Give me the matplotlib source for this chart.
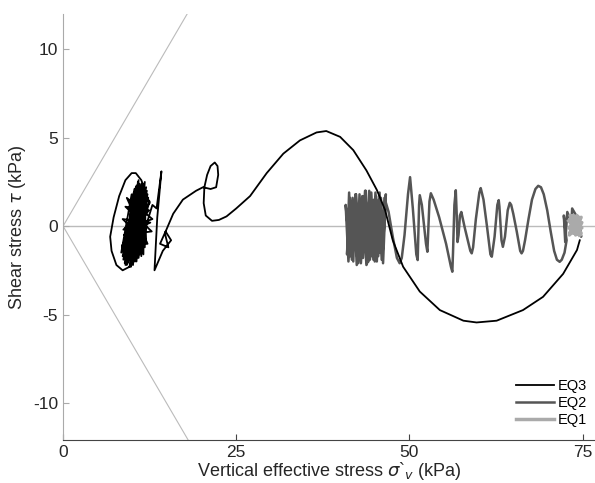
import matplotlib.pyplot as plt

plt.rcParams['font.family'] = ['Liberation Sans', 'DejaVu Sans']
plt.rcParams['axes.unicode_minus'] = False

# EQ3 (black) - dense scribble near 10 kPa
eq3_blob_x = [10.5, 8.6, 11.0, 9.4, 11.4, 10.2, 11.8, 11.0, 10.2, 8.9, 12.1, 9.8, 10.8, 10.6,
              11.5, 11.5, 9.9, 8.4, 12.3, 9.2, 10.6, 10.0, 11.2, 10.9, 11.9, 11.8, 10.3, 8.7,
              12.5, 9.6, 10.9, 10.4, 11.6, 11.3, 10.0, 9.0, 12.0, 9.9, 11.3, 10.8, 10.7, 8.5,
              12.2, 9.3, 11.1, 10.1, 9.7, 11.6, 11.7, 12.0,
              8.6, 12.6, 8.8, 12.8, 9.0, 12.4, 8.5, 12.2, 9.2, 12.9, 8.7, 12.5]
eq3_blob_y = [2.2, -1.7, 2.4, -2.0, 2.3, -1.9, 2.5, -1.6, 1.9, -2.1, 2.0, -2.3, 2.5, -2.0,
              2.4, -1.4, 1.8, -1.5, 1.6, -2.2, 2.3, -2.1, 2.2, -1.8, 2.0, -1.2, 2.1, -1.9,
              1.4, -2.3, 2.6, -2.0, 1.9, -1.7, 1.5, -2.2, 2.2, -1.9, 2.4, -1.5, 2.0, -1.3,
              1.8, -2.1, 2.3, -2.2, 1.2, -1.6, 2.1, -0.9,
              0.4, 0.2, -0.5, -0.3, 1.1, 0.9, -1.1, -1.0, 1.6, 0.4, -0.2, 1.3]

# EQ3 - outer loop, spikes, curl and the big arc
eq3_path_x = [11.3, 10.5, 9.9, 9.0, 8.1, 7.3, 6.8, 7.0, 7.7, 8.6, 9.6, 10.6, 11.5, 12.2,
              12.9, 13.5, 14.2, 13.6, 13.2, 14.4, 15.6, 14.8, 14.0, 15.2, 14.7, 15.9, 17.3,
              19.2, 20.2, 21.3, 22.1, 22.4, 22.3, 21.9, 21.3, 20.8, 20.4, 20.3, 20.6, 21.5,
              22.5, 23.6, 25.0, 27.0, 29.4, 31.8, 34.2, 36.6, 38.0, 40.0, 41.9, 43.8, 45.3,
              46.5, 47.6, 49.1, 51.5, 54.4, 57.8, 59.7, 62.6, 66.4, 69.3, 72.2, 74.2, 74.6]
eq3_path_y = [2.6, 3.0, 3.0, 2.6, 1.7, 0.5, -0.6, -1.4, -2.2, -2.5, -2.3, -1.8, -0.9, 0.3,
              1.2, 1.0, 3.1, 0.5, -2.5, -1.4, -0.8, -0.3, -1.0, -1.2, -0.4, 0.7, 1.5,
              2.0, 2.2, 2.1, 2.2, 2.9, 3.4, 3.6, 3.4, 2.9, 2.2, 1.3, 0.6, 0.3,
              0.35, 0.55, 1.0, 1.7, 3.0, 4.1, 4.85, 5.3, 5.38, 5.05, 4.3, 3.15, 2.05,
              0.9, -0.8, -2.3, -3.7, -4.75, -5.35, -5.45, -5.35, -4.75, -4.0, -2.7, -1.35, -0.8]

# EQ2 (dark grey) - start near 74 kPa and waves going left
eq2_wave_x = [74.5, 74.8, 74.3, 73.5, 73.4, 72.8, 72.5, 72.3, 72.6, 72.7, 72.4, 72.0, 71.7,
              71.3, 70.9, 70.4, 69.9, 69.4, 69.0, 68.6, 68.2, 67.7, 67.2, 66.7, 66.4, 66.2,
              66.0, 65.5, 65.0, 64.7, 64.5, 64.2, 63.8, 63.5, 63.3, 63.0, 62.9, 62.7, 62.3,
              61.9, 61.7, 61.2, 60.7, 60.3, 60.1, 59.6, 59.2, 59.0, 58.8, 58.0, 57.5, 57.3,
              57.1, 56.95, 56.85, 56.7, 56.5, 56.3, 56.2, 56.0, 55.3, 54.3, 53.5, 53.1, 52.9,
              52.7, 52.6, 52.4, 51.8, 51.5, 51.4, 51.2, 51.0, 50.5, 50.1, 49.8, 49.3, 48.9,
              48.6, 48.2, 47.6, 47.0]
eq2_wave_y = [0.3, -0.6, 0.45, 1.0, 0.2, 0.8, -0.9, 0.6, -0.5, -0.8, -1.5, -1.9, -2.02,
              -1.9, -1.4, -0.3, 0.9, 1.8, 2.2, 2.28, 2.1, 1.5, 0.4, -0.8, -1.4, -1.54,
              -1.4, -0.3, 0.7, 1.2, 1.32, 0.9, -0.6, -1.17, -0.8, 1.1, 1.47, 1.2, -0.6,
              -1.73, -1.6, 0.0, 1.5, 2.15, 1.9, 0.4, -1.2, -1.54, -1.4, -0.1, 0.8, 0.6,
              -0.5, -0.9, 0.5, 2.03, 1.2, -1.5, -2.58, -2.3, -1.0, 0.5, 1.5, 1.86, 1.4,
              -0.5, -1.45, -1.0, 1.2, 1.75, 1.2, -1.92, -1.6, 1.0, 2.77, 1.8, -0.5, -1.8,
              -2.1, -1.8, -0.6, 0.8]

# EQ2 - dense cluster around 41-47 kPa
eq2_cluster_x = [46.4, 46.0, 45.7, 45.3, 44.9, 44.6, 44.2, 43.9, 43.5, 43.1, 42.8, 42.4,
                 42.0, 41.7, 41.3, 41.0, 41.4, 41.9, 42.2, 42.6, 43.0, 43.3, 43.7, 44.1,
                 44.4, 44.8, 45.1, 45.5, 45.9, 46.2, 46.6, 46.1, 45.6, 45.0, 44.5, 43.8,
                 43.2, 42.5, 41.8, 41.2, 40.8, 41.5, 42.3, 43.0, 43.6, 44.3, 45.2, 45.8]
eq2_cluster_y = [1.6, -1.9, 1.9, -2.0, 1.5, -1.7, 2.0, -2.1, 1.7, -1.8, 1.8, -2.2,
                 1.4, -1.9, 1.9, -1.6, 1.6, -2.0, 1.8, -2.1, 1.5, -1.8, 2.0, -2.0,
                 1.7, -1.9, 1.9, -1.7, 1.6, -2.1, 1.8, -1.8, 1.5, -2.0, 1.9, -2.2,
                 1.7, -1.9, 1.6, -2.0, 1.2, -1.7, 1.8, -2.1, 2.0, -1.9, 1.7, -1.5]

# EQ1 (light grey) - small cluster near 74 kPa
eq1_x = [73.0, 74.8, 73.2, 74.5, 73.1, 74.9, 73.5, 74.2, 73.3, 74.7, 73.8, 74.0, 74.6, 73.4,
         74.4, 73.0, 74.8, 73.7, 74.3, 73.2, 74.6, 73.9, 73.1, 74.9, 73.6, 74.1, 73.3, 74.5]
eq1_y = [0.3, -0.4, 0.6, 0.5, -0.5, 0.2, -0.3, 0.6, -0.2, -0.5, 0.5, -0.5, 0.4, 0.1,
         -0.3, -0.1, 0.5, -0.4, 0.2, 0.4, -0.2, 0.0, -0.4, -0.1, 0.6, 0.3, 0.0, -0.5]

friction = 0.67  # slope of failure envelope

fig = plt.figure(figsize=(5.95, 4.83), dpi=100)
ax = fig.add_axes([0.106, 0.089, 0.894, 0.882])

ax.axhline(0, color='#bbbbbb', lw=1.0, zorder=1)
ax.axline((0, 0), slope=friction, color='#bbbbbb', lw=0.8, zorder=1)
ax.axline((0, 0), slope=-friction, color='#bbbbbb', lw=0.8, zorder=1)

l3, = ax.plot(eq3_blob_x + eq3_path_x, eq3_blob_y + eq3_path_y, color='black', lw=1.3,
              label='EQ3', zorder=4)
l2, = ax.plot(eq2_wave_x + eq2_cluster_x, eq2_wave_y + eq2_cluster_y, color='#555555',
              lw=1.8, label='EQ2', zorder=2)
l1, = ax.plot(eq1_x, eq1_y, color='#aaaaaa', lw=2.5, label='EQ1', zorder=3)

ax.set_xlim(0, 76.8)
ax.set_ylim(-12.1, 12)
ax.set_xticks([0, 25, 50, 75])
ax.set_yticks([-10, -5, 0, 5, 10])
ax.tick_params(direction='in', length=4, labelsize=12.5, colors='#262626')
ax.tick_params(axis='y', color='#aaaaaa')
ax.tick_params(axis='x', color='#444444')
for s in ['top', 'right']:
    ax.spines[s].set_visible(False)
ax.spines['left'].set_color('#aaaaaa')
ax.spines['bottom'].set_color('#444444')

ax.set_xlabel('Vertical effective stress $\\sigma$`$_v$ (kPa)', fontsize=13, color='#262626',
              labelpad=0)
ax.set_ylabel('Shear stress $\\tau$ (kPa)', fontsize=13, color='#262626')

ax.legend(handles=[l3, l2, l1], loc='lower right', frameon=False, fontsize=10.5,
          handlelength=2.6, handletextpad=0.3, labelspacing=0.2,
          bbox_to_anchor=(1.01, 0.0))

fig.savefig('out.png', dpi=100)
